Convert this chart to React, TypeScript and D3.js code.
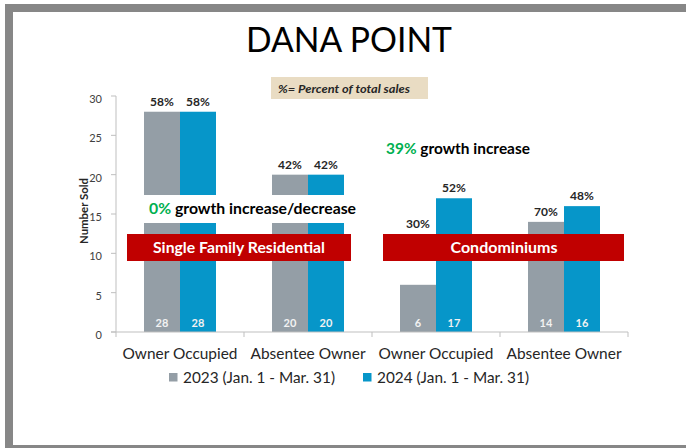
import React from "react";
import * as d3 from "d3";

const categories = ["Owner Occupied", "Absentee Owner", "Owner Occupied", "Absentee Owner"];
const seriesNames = ["2023 (Jan. 1 - Mar. 31)", "2024 (Jan. 1 - Mar. 31)"];
const values2023 = [28, 20, 6, 14];
const values2024 = [28, 20, 17, 16];
const pct2023 = ["58%", "42%", "30%", "70%"];
const pct2024 = ["58%", "42%", "52%", "48%"];
const yTicks = [0, 5, 10, 15, 20, 25, 30];
const segmentLabels = ["Single Family Residential", "Condominiums"];
const growthPct = ["0%", "39%"];
const growthText = [" growth increase/decrease", " growth increase"];

const W = 686;
const H = 448;
const FONT = "Lato, 'Open Sans', sans-serif";
const GRAY = "#949ea6";
const BLUE = "#0696c9";
const RED = "#c00000";
const GREEN = "#00b050";
const FRAME = "#878787";

export default function App() {
  const x = d3.scaleBand<number>().domain(d3.range(categories.length)).range([116, 628]).padding(0);
  const y = d3.scaleLinear().domain([0, 30]).range([332, 96]);
  const barW = 36;
  const series = [values2023, values2024];
  const pcts = [pct2023, pct2024];
  const colors = [GRAY, BLUE];
  const bannerTop = 234;
  const bannerBottom = 261;
  const banners = [
    { x0: 127, x1: 351, tx: 239, tl: 172 },
    { x0: 383, x1: 624, tx: 504, tl: 107 },
  ];
  const bw = x.bandwidth();

  return (
    <svg width={W} height={H} style={{ position: "absolute", left: 0, top: 0, background: "#fff" }} fontFamily={FONT}>
      <rect x={0} y={0} width={W} height={H} fill="#fff" />
      {/* frame */}
      <rect x={5} y={4} width={W - 5} height={8} fill={FRAME} />
      <rect x={5} y={4} width={8} height={H - 4} fill={FRAME} />
      <rect x={5} y={445} width={W - 5} height={3} fill={FRAME} />

      {/* title */}
      <text x={349} y={52} textAnchor="middle" fontSize={35} fill="#000" textLength={206} lengthAdjust="spacingAndGlyphs">
        DANA POINT
      </text>

      {/* note box */}
      <rect x={271} y={77} width={157} height={22} fill="#e9dcc3" />
      <text x={278} y={93} fontSize={11} fontWeight="bold" fontStyle="italic" fill="#262626" textLength={132} lengthAdjust="spacingAndGlyphs">
        %= Percent of total sales
      </text>

      {/* y axis */}
      <line x1={116} x2={116} y1={y(30)} y2={y(0)} stroke="#bfbfbf" strokeWidth={1} />
      {yTicks.map((t) => (
        <g key={t}>
          <line x1={111} x2={116} y1={y(t)} y2={y(t)} stroke="#bfbfbf" />
          <text x={102} y={y(t) + 7} textAnchor="end" fontSize={11} fill="#404040">
            {t}
          </text>
        </g>
      ))}
      <text transform={`translate(88,211) rotate(-90)`} textAnchor="middle" fontSize={11} fontWeight="bold" fill="#262626" textLength={66} lengthAdjust="spacingAndGlyphs">
        Number Sold
      </text>

      {/* bars */}
      {categories.map((c, i) => {
        const cx = (x(i) as number) + bw / 2;
        return (
          <g key={i}>
            {series.map((vals, s) => {
              const bx = cx - barW + s * barW;
              return (
                <rect key={s} x={bx} y={y(vals[i])} width={barW} height={y(0) - y(vals[i])} fill={colors[s]} />
              );
            })}
          </g>
        );
      })}

      {/* x axis */}
      <line x1={111} x2={628} y1={y(0)} y2={y(0)} stroke="#bfbfbf" />
      {d3.range(categories.length + 1).map((i) => {
        const xx = i < categories.length ? (x(i) as number) : (x(categories.length - 1) as number) + bw;
        return <line key={i} x1={xx} x2={xx} y1={y(0)} y2={y(0) + 5} stroke="#bfbfbf" />;
      })}
      {categories.map((c, i) => (
        <text key={i} x={(x(i) as number) + bw / 2} y={359} textAnchor="middle" fontSize={16} fill="#262626" textLength={115} lengthAdjust="spacingAndGlyphs">
          {c}
        </text>
      ))}

      {/* white gap behind growth text */}
      <rect x={140} y={195} width={222} height={28} fill="#fff" />
      <text x={149} y={214} fontSize={15} fontWeight="bold" fill="#000" textLength={207} lengthAdjust="spacingAndGlyphs">
        <tspan fill={GREEN}>{growthPct[0]}</tspan>
        <tspan>{growthText[0]}</tspan>
      </text>
      <text x={386} y={154} fontSize={15} fontWeight="bold" fill="#000" textLength={144} lengthAdjust="spacingAndGlyphs">
        <tspan fill={GREEN}>{growthPct[1]}</tspan>
        <tspan>{growthText[1]}</tspan>
      </text>

      {/* banners */}
      {banners.map((b, k) => (
        <g key={k}>
          <rect x={b.x0} y={bannerTop} width={b.x1 - b.x0} height={bannerBottom - bannerTop} fill={RED} />
          <text x={b.tx} y={253} textAnchor="middle" fontSize={16} fontWeight="bold" fill="#fff" textLength={b.tl} lengthAdjust="spacingAndGlyphs">
            {segmentLabels[k]}
          </text>
        </g>
      ))}

      {/* labels */}
      {categories.map((c, i) => {
        const cx = (x(i) as number) + bw / 2;
        return (
          <g key={i}>
            {series.map((vals, s) => {
              const bcx = cx - barW / 2 + s * barW;
              const top = y(vals[i]);
              const ref = top > bannerTop ? bannerTop : top;
              return (
                <g key={s}>
                  <text x={bcx} y={ref - 6} textAnchor="middle" fontSize={12} fontWeight="bold" fill="#262626">
                    {pcts[s][i]}
                  </text>
                  <text x={bcx} y={y(0) - 5} textAnchor="middle" fontSize={11} fontWeight="bold" fill="#f2f2f2">
                    {vals[i]}
                  </text>
                </g>
              );
            })}
          </g>
        );
      })}

      {/* legend */}
      {seriesNames.map((n, s) => {
        const lx = s === 0 ? 169 : 363;
        return (
          <g key={s}>
            <rect x={lx} y={373} width={8.5} height={8.5} fill={colors[s]} />
            <text x={lx + 14} y={383} fontSize={15} fill="#262626" textLength={152} lengthAdjust="spacingAndGlyphs">
              {n}
            </text>
          </g>
        );
      })}
    </svg>
  );
}
